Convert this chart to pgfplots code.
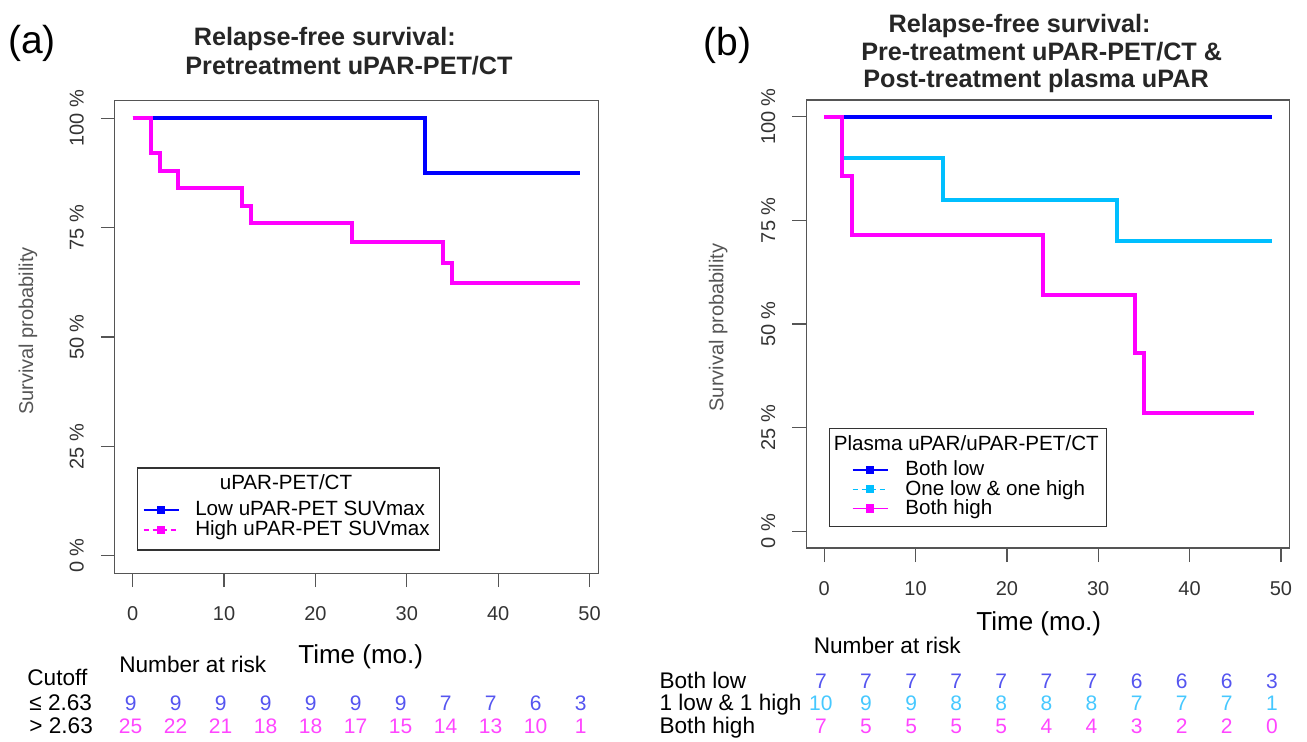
\documentclass[border=0pt]{standalone}
\usepackage{pgfplots}
\pgfplotsset{compat=1.18}
\usepackage{fontspec}
\setmainfont{Liberation Sans}

\definecolor{kmblue}{RGB}{0,0,255}
\definecolor{kmmag}{RGB}{255,0,255}
\definecolor{kmcyan}{RGB}{0,191,255}
\definecolor{rkblue}{RGB}{85,85,240}
\definecolor{rkmag}{RGB}{255,70,255}
\definecolor{rkcyan}{RGB}{70,200,255}
\definecolor{axgray}{RGB}{85,85,85}

\pgfplotsset{
  km/.style={
    scale only axis, anchor=south west,
    xmin=-1.96, xmax=50.96, ymin=-4, ymax=104,
    axis line style={draw=axgray, line width=0.6pt},
    tick style={draw=axgray, line width=0.6pt},
    tick align=outside, major tick length=7pt,
    xtick pos=left, ytick pos=left,
    xtick={0,10,20,30,40,50}, xticklabels={0,10,20,30,40,50},
    ytick={0,25,50,75,100}, yticklabels={0 \%,25 \%,50 \%,75 \%,100 \%},
    ticklabel style={font=\fontsize{10}{12}\selectfont, text=black!80},
    xticklabel shift=6pt,
    yticklabel style={rotate=90, anchor=south},
    yticklabel shift=5pt,
    legend cell align=left,
    legend image code/.code={\draw[mark repeat=2,mark phase=2,##1] plot coordinates {(0pt,0pt) (8.85pt,0pt) (17.7pt,0pt)};},
    legend style={draw=none, fill=none, inner sep=0pt, outer sep=0pt, anchor=north west,
      font=\fontsize{10.3}{12}\selectfont, column sep=7.85pt,
      nodes={inner sep=0pt, minimum height=10pt}},
  },
  curve/.style={const plot, line width=2pt, forget plot},
  leg/.style={line width=0.6pt, mark=square*, mark size=1.75pt, mark options={solid}},
}

\begin{document}
\begin{tikzpicture}
\useasboundingbox (0pt,0pt) rectangle (653.5pt,-370.5pt);

% (a) pretreatment uPAR-PET/CT
\begin{axis}[km, at={(57.4pt,-286.6pt)}, width=241.75pt, height=236.2pt,
  legend style={at={(axis description cs:0.0583,0.155)}}]
\addplot[curve, kmblue] coordinates {(0,100) (32,87.5) (49,87.5)};
\addplot[curve, kmmag] coordinates {(0,100) (2,92) (3,88) (5,84) (12,80) (13,76) (24,71.8) (34,67.0) (35,62.3) (49,62.3)};
\addlegendimage{leg, kmblue}
\addlegendentry{Low uPAR-PET SUVmax}
\addlegendimage{leg, kmmag, dash pattern=on 2.5pt off 2pt}
\addlegendentry{High uPAR-PET SUVmax}
\end{axis}

% (b) pretreatment uPAR-PET/CT and post-treatment plasma uPAR
\begin{axis}[km, at={(403.15pt,-274pt)}, width=241.7pt, height=224pt,
  legend style={at={(axis description cs:0.0945,0.1955)}, column sep=8.4pt,
    nodes={inner sep=0pt, minimum height=9.6pt}}]
\addplot[curve, kmcyan] coordinates {(0,100) (2,90) (13,80) (32,70) (49,70)};
\addplot[curve, kmblue] coordinates {(0,100) (49,100)};
\addplot[curve, kmmag] coordinates {(0,100) (2,85.7) (3,71.4) (24,57.1) (34,42.9) (35,28.6) (47,28.6)};
\addlegendimage{leg, kmblue}
\addlegendentry{Both low}
\addlegendimage{leg, kmcyan, dash pattern=on 2.5pt off 2pt}
\addlegendentry{One low \& one high}
\addlegendimage{leg, kmmag}
\addlegendentry{Both high}
\end{axis}

\begin{scope}[x=0.5pt, y=-0.5pt]
% panel letters
\node[font=\fontsize{19.5}{22}\selectfont] at (32,43) {(a)};
\node[font=\fontsize{19.5}{22}\selectfont] at (727.5,45) {(b)};
% titles
\begin{scope}[every node/.style={anchor=base, font=\fontsize{12.6}{15}\selectfont\bfseries, text=black!85}]
\node at (324.9,45) {Relapse-free survival:};
\node at (349,74) {Pretreatment uPAR-PET/CT};
\node at (1019.7,32.5) {Relapse-free survival:};
\node at (1041.7,60) {Pre-treatment uPAR-PET/CT \&};
\node at (1036,87) {Post-treatment plasma uPAR};
\end{scope}
% y labels
\node[rotate=90, text=axgray, font=\fontsize{10}{12}\selectfont] at (28,331) {Survival probability};
\node[rotate=90, text=axgray, font=\fontsize{10}{12}\selectfont] at (718.3,327.5) {Survival probability};
% legend frames and titles
\draw[black!80, line width=0.6pt] (137.6,468) rectangle (439.5,550);
\node[font=\fontsize{10.3}{12}\selectfont] at (286,482) {uPAR-PET/CT};
\draw[black!80, line width=0.6pt] (829.3,428.3) rectangle (1106.6,526.7);
\node[anchor=west, inner sep=0pt, font=\fontsize{10.3}{12}\selectfont] at (833.5,442.7) {Plasma uPAR/uPAR-PET/CT};
% x labels
\node[anchor=base, font=\fontsize{13}{15}\selectfont] at (360.7,663.3) {Time (mo.)};
\node[anchor=base, font=\fontsize{13}{15}\selectfont] at (1038.8,630) {Time (mo.)};
% risk table (a)
\begin{scope}[every node/.style={font=\fontsize{11.3}{13}\selectfont}]
\node[anchor=base] at (192.8,672.3) {Number at risk};
\node[anchor=base west, inner sep=0pt] at (27,685) {Cutoff};
\node[anchor=base west, inner sep=0pt] at (29,710.7) {≤ 2.63};
\node[anchor=base west, inner sep=0pt] at (29,733) {> 2.63};
\node[anchor=base] at (887.3,653.3) {Number at risk};
\node[anchor=base west, inner sep=0pt] at (659.2,688.3) {Both low};
\node[anchor=base west, inner sep=0pt] at (659.2,710.7) {1 low \& 1 high};
\node[anchor=base west, inner sep=0pt] at (659.2,733.3) {Both high};
\end{scope}
\begin{scope}[every node/.style={anchor=base, inner sep=0pt, font=\fontsize{10.5}{12}\selectfont}]
\foreach \n [count=\i from 0] in {9,9,9,9,9,9,9,7,7,6,3}
  \node[text=rkblue] at (130.6+45.0*\i,710.7) {\n};
\foreach \n [count=\i from 0] in {25,22,21,18,18,17,15,14,13,10,1}
  \node[text=rkmag] at (130.6+45.0*\i,733) {\n};
\foreach \n [count=\i from 0] in {7,7,7,7,7,7,7,6,6,6,3}
  \node[text=rkblue] at (820.9+45.1*\i,688.3) {\n};
\foreach \n [count=\i from 0] in {10,9,9,8,8,8,8,7,7,7,1}
  \node[text=rkcyan] at (820.9+45.1*\i,710.7) {\n};
\foreach \n [count=\i from 0] in {7,5,5,5,5,4,4,3,2,2,0}
  \node[text=rkmag] at (820.9+45.1*\i,733.3) {\n};
\end{scope}
\end{scope}
\end{tikzpicture}
\end{document}
